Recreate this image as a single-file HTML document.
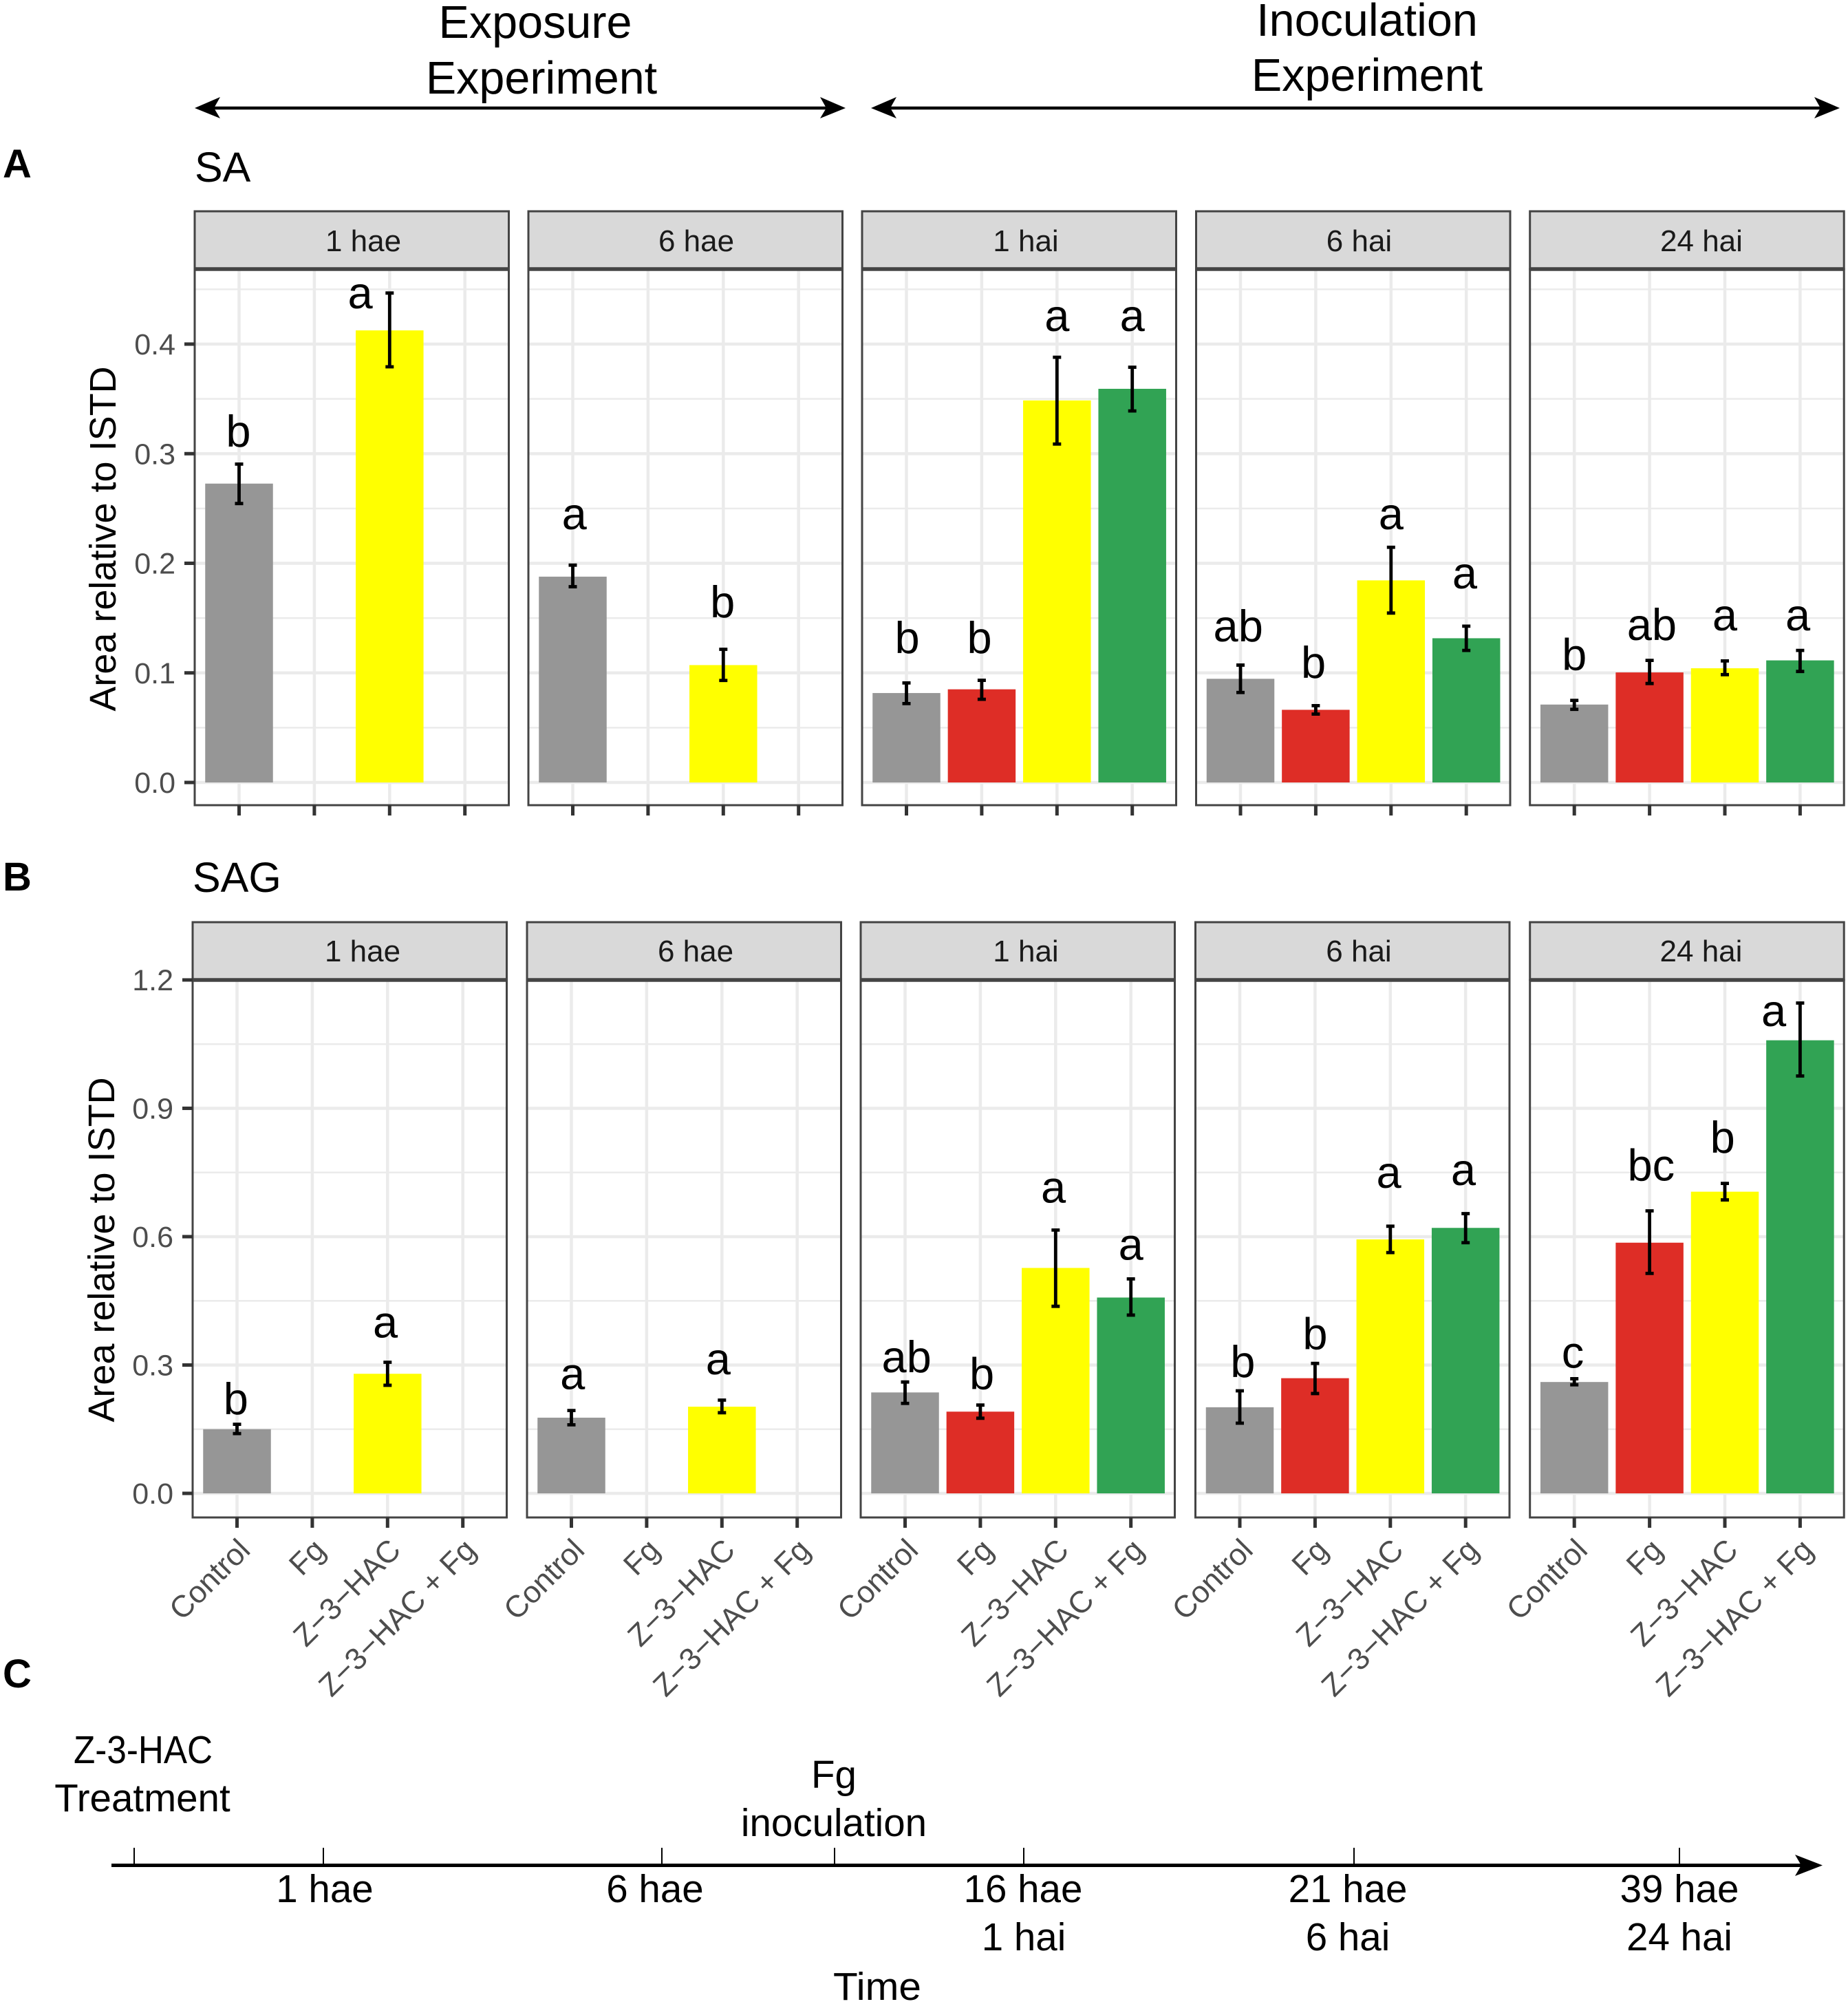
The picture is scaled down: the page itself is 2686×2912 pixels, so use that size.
<!DOCTYPE html>
<html lang="en">
<head>
<meta charset="utf-8">
<title>SA and SAG bar charts with timeline</title>
<style>
html,body{margin:0;padding:0;background:#fff;}
svg{display:block;font-family:"Liberation Sans",sans-serif;}
</style>
</head>
<body>
<svg id="figure" xmlns="http://www.w3.org/2000/svg" width="2686" height="2912" viewBox="0 0 2686 2912">
  <rect x="0" y="0" width="2686" height="2912" fill="#ffffff"/>

  <g fill="#000" font-size="66.5" text-anchor="middle">
    <text x="778" y="55">Exposure</text>
    <text x="787" y="136">Experiment</text>
    <text x="1987" y="52">Inoculation</text>
    <text x="1987" y="132">Experiment</text>
  </g>
  <g>
    <line x1="300" y1="157" x2="1210" y2="157" stroke="#000" stroke-width="4.5"/>
    <polygon points="283,157 320,141 311,157 320,172" fill="#000"/>
    <polygon points="1229,157 1192,141 1201,157 1192,172" fill="#000"/>
  </g>
  <g>
    <line x1="1285" y1="157" x2="2656" y2="157" stroke="#000" stroke-width="4.5"/>
    <polygon points="1266,157 1303,141 1294,157 1303,172" fill="#000"/>
    <polygon points="2674,157 2637,141 2646,157 2637,172" fill="#000"/>
  </g>

  <text x="4" y="258" font-size="58" font-weight="bold">A</text>
  <text x="4" y="1294" font-size="58" font-weight="bold">B</text>
  <text x="4" y="2452" font-size="58" font-weight="bold">C</text>
  <text x="283" y="264" font-size="61">SA</text>
  <text x="280" y="1296" font-size="61">SAG</text>
  <text transform="translate(168,783) rotate(-90)" text-anchor="middle" font-size="54">Area relative to ISTD</text>
  <text transform="translate(166,1816) rotate(-90)" text-anchor="middle" font-size="54">Area relative to ISTD</text>

  <g id="chart-sa"></g>
  <g id="chart-sag"></g>

  <g font-size="56.5" text-anchor="middle" fill="#000">
    <line x1="162" y1="2710.5" x2="2620" y2="2710.5" stroke="#000" stroke-width="5"/>
    <polygon points="2649,2710.5 2609,2695 2618,2710.5 2609,2726" fill="#000"/>
    <line x1="195" y1="2685" x2="195" y2="2710" stroke="#000" stroke-width="2"/>
    <line x1="470" y1="2685" x2="470" y2="2710" stroke="#000" stroke-width="2"/>
    <line x1="962" y1="2685" x2="962" y2="2710" stroke="#000" stroke-width="2"/>
    <line x1="1213" y1="2685" x2="1213" y2="2710" stroke="#000" stroke-width="2"/>
    <line x1="1488" y1="2685" x2="1488" y2="2710" stroke="#000" stroke-width="2"/>
    <line x1="1968" y1="2685" x2="1968" y2="2710" stroke="#000" stroke-width="2"/>
    <line x1="2441" y1="2685" x2="2441" y2="2710" stroke="#000" stroke-width="2"/>
    <text x="208" y="2562" textLength="202" lengthAdjust="spacingAndGlyphs">Z-3-HAC</text>
    <text x="207" y="2632">Treatment</text>
    <text x="1212" y="2598">Fg</text>
    <text x="1212" y="2668">inoculation</text>
    <text x="472" y="2764">1 hae</text>
    <text x="952" y="2764">6 hae</text>
    <text x="1487" y="2764">16 hae</text>
    <text x="1959" y="2764">21 hae</text>
    <text x="2441" y="2764">39 hae</text>
    <text x="1488" y="2834">1 hai</text>
    <text x="1959" y="2834">6 hai</text>
    <text x="2441" y="2834">24 hai</text>
    <text x="1275" y="2906" textLength="128" lengthAdjust="spacingAndGlyphs">Time</text>
  </g>
</svg>

<script>
// ---- data ----
const categories = ["Control", "Fg", "Z\u22123\u2212HAC", "Z\u22123\u2212HAC + Fg"];
const panelNames = ["1 hae", "6 hae", "1 hai", "6 hai", "24 hai"];
const barColors = ["#969696", "#de2d26", "#ffff00", "#31a354"];

const saMajorTicks = [0, 0.1, 0.2, 0.3, 0.4];
const saMinorTicks = [0.05, 0.15, 0.25, 0.35, 0.45];
const saTickLabels = ["0.0", "0.1", "0.2", "0.3", "0.4"];
const saMeans = [
  [0.2727, null, 0.4125, null],
  [0.1878, null, 0.1071, null],
  [0.0816, 0.0850, 0.3486, 0.3592],
  [0.0946, 0.0663, 0.1844, 0.1316],
  [0.0711, 0.1004, 0.1042, 0.1114]
];
const saErrLow = [
  [0.2545, null, 0.3793, null],
  [0.1786, null, 0.0931, null],
  [0.0720, 0.0759, 0.3088, 0.3390],
  [0.0821, 0.0624, 0.1546, 0.1205],
  [0.0667, 0.0903, 0.0984, 0.1013]
];
const saErrHigh = [
  [0.2905, null, 0.4466, null],
  [0.1983, null, 0.1215, null],
  [0.0908, 0.0932, 0.3880, 0.3789],
  [0.1071, 0.0701, 0.2146, 0.1426],
  [0.0749, 0.1114, 0.1109, 0.1205]
];
const saLetters = [
  ["b", null, "a", null],
  ["a", null, "b", null],
  ["b", "b", "a", "a"],
  ["ab", "b", "a", "a"],
  ["b", "ab", "a", "a"]
];
const saLetterHeights = [
  [0.3064, null, 0.4327, null],
  [0.2310, null, 0.1508, null],
  [0.1181, 0.1181, 0.4120, 0.4120],
  [0.1287, 0.0956, 0.2310, 0.1772],
  [0.1028, 0.1300, 0.1388, 0.1388]
];
const saLetterShift = [
  [-0.01, 0, -0.39, 0],
  [0.02, 0, -0.01, 0],
  [0.01, -0.03, 0, 0],
  [-0.03, -0.03, 0, -0.02],
  [0, 0.03, 0, -0.03]
];

const sagMajorTicks = [0, 0.3, 0.6, 0.9, 1.2];
const sagMinorTicks = [0.15, 0.45, 0.75, 1.05];
const sagTickLabels = ["0.0", "0.3", "0.6", "0.9", "1.2"];
const sagMeans = [
  [0.1500, null, 0.2795, null],
  [0.1769, null, 0.2026, null],
  [0.2359, 0.1910, 0.5269, 0.4577],
  [0.2013, 0.2692, 0.5936, 0.6205],
  [0.2603, 0.5859, 0.7051, 1.0590]
];
const sagErrLow = [
  [0.1397, null, 0.2526, null],
  [0.1603, null, 0.1885, null],
  [0.2103, 0.1756, 0.4372, 0.4167],
  [0.1641, 0.2333, 0.5628, 0.5859],
  [0.2538, 0.5141, 0.6859, 0.9756]
];
const sagErrHigh = [
  [0.1615, null, 0.3064, null],
  [0.1936, null, 0.2179, null],
  [0.2603, 0.2064, 0.6154, 0.5013],
  [0.2397, 0.3038, 0.6244, 0.6538],
  [0.2679, 0.6603, 0.7244, 1.1460]
];
const sagLetters = [
  ["b", null, "a", null],
  ["a", null, "a", null],
  ["ab", "b", "a", "a"],
  ["b", "b", "a", "a"],
  ["c", "bc", "b", "a"]
];
const sagLetterHeights = [
  [0.1846, null, 0.3641, null],
  [0.2436, null, 0.2782, null],
  [0.2833, 0.2436, 0.6795, 0.5462],
  [0.2718, 0.3372, 0.7140, 0.7205],
  [0.2936, 0.7308, 0.7962, 1.0923]
];
const sagLetterShift = [
  [-0.015, 0, -0.03, 0],
  [0.015, 0, -0.05, 0],
  [0.02, 0.02, -0.03, 0],
  [0.04, 0, -0.02, -0.03],
  [-0.02, 0.02, -0.03, -0.35]
];

// ---- drawing ----
const SVG_NS = "http://www.w3.org/2000/svg";
const PANEL_W = 456.5, CAT_STEP = 109.4, CAT_START = 64.5, BAR_W = 98.5;

function make(parent, type, attrs, text) {
  const el = document.createElementNS(SVG_NS, type);
  for (const k in attrs) el.setAttribute(k, attrs[k]);
  if (text !== undefined) el.textContent = text;
  parent.appendChild(el);
  return el;
}

function drawChart(cfg) {
  const root = document.getElementById(cfg.id);
  const y = v => cfg.y0 - v * cfg.unit;
  const x = (p, c) => cfg.lefts[p] + CAT_START + c * CAT_STEP;

  cfg.lefts.forEach((left, p) => {
    const right = left + PANEL_W;
    const panel = make(root, "g", {});
    
    

    // grid
    cfg.minor.forEach(v => {
      if (y(v) <= cfg.stripBottom) return;
      const g = make(panel, "line", {x1: left, x2: right, y1: y(v), y2: y(v), stroke: "#ebebeb", "stroke-width": 2.5});
      
      
    });
    cfg.major.forEach(v => {
      if (y(v) <= cfg.stripBottom) return;
      const g = make(panel, "line", {x1: left, x2: right, y1: y(v), y2: y(v), stroke: "#ebebeb", "stroke-width": 4.5});
      
      
    });
    categories.forEach((cat, c) => {
      const g = make(panel, "line", {x1: x(p, c), x2: x(p, c), y1: cfg.stripBottom, y2: cfg.bottom, stroke: "#ebebeb", "stroke-width": 4.5});
      
      
    });

    // bars
    categories.forEach((cat, c) => {
      const v = cfg.means[p][c];
      if (v === null) return;
      const bar = make(panel, "rect", {x: x(p, c) - BAR_W / 2, y: y(v), width: BAR_W, height: y(0) - y(v), fill: barColors[c]});
      
      
    });

    // error bars
    categories.forEach((cat, c) => {
      const lo = cfg.low[p][c], hi = cfg.high[p][c];
      if (lo === null || hi === null) return;
      const err = make(panel, "path", {
        d: "M" + (x(p, c) - 6) + " " + y(hi) + "H" + (x(p, c) + 6) +
           "M" + x(p, c) + " " + y(hi) + "V" + y(lo) +
           "M" + (x(p, c) - 6) + " " + y(lo) + "H" + (x(p, c) + 6),
        stroke: "#000", "stroke-width": 4.8, fill: "none"
      });
      
      
    });

    // significance letters
    categories.forEach((cat, c) => {
      const s = cfg.letters[p][c];
      if (s === null) return;
      const t = make(panel, "text", {
        x: x(p, c + cfg.shift[p][c]),
        y: y(cfg.heights[p][c]),
        "font-size": 65, "text-anchor": "middle", fill: "#000"
      }, s);
      
      
    });

    // border
    const border = make(panel, "rect", {x: left, y: cfg.stripBottom, width: right - left, height: cfg.bottom - cfg.stripBottom, fill: "none", stroke: "#444444", "stroke-width": 3});
    
    

    // strip
    const strip = make(panel, "rect", {x: left, y: cfg.stripTop, width: right - left, height: cfg.stripBottom - cfg.stripTop, fill: "#d9d9d9", stroke: "#444444", "stroke-width": 3});
    
    
    const stripLine = make(panel, "line", {x1: left, x2: right, y1: cfg.stripBottom, y2: cfg.stripBottom, stroke: "#444444", "stroke-width": 5.5});
    
    
    const stripText = make(panel, "text", {x: cfg.stripCenters[p], y: cfg.stripBaseline, "font-size": 44, "text-anchor": "middle", fill: "#1a1a1a"}, panelNames[p]);
    
    

    // x ticks and labels
    categories.forEach((cat, c) => {
      const tick = make(panel, "line", {x1: x(p, c), x2: x(p, c), y1: cfg.bottom, y2: cfg.bottom + 15, stroke: "#333333", "stroke-width": 5});
      
      
      if (cfg.showLabels) {
        const lx = x(p, c) + 21.5, ly = cfg.bottom + 50;
        const label = make(panel, "text", {x: lx, y: ly, "font-size": 44.5, "text-anchor": "end", fill: "#4d4d4d", transform: "rotate(-45 " + lx + " " + ly + ")"}, cat);
        
        
      }
    });
  });

  // y axis
  const axisLeft = cfg.lefts[0];
  cfg.major.forEach((v, i) => {
    const tick = make(root, "line", {x1: axisLeft - 15, x2: axisLeft, y1: y(v), y2: y(v), stroke: "#333333", "stroke-width": 5});
    
    
    const label = make(root, "text", {x: axisLeft - 28, y: y(v) + 15, "font-size": 43, "text-anchor": "end", fill: "#4d4d4d"}, cfg.tickLabels[i]);
    
    
  });
}

drawChart({
  id: "chart-sa",
  lefts: [283, 768, 1253, 1738.5, 2223.7],
  stripTop: 307, stripBottom: 391, bottom: 1170,
  stripBaseline: 365,
  stripCenters: [528, 1012, 1491, 1975.5, 2473],
  y0: 1137, unit: 1592.5,
  major: saMajorTicks, minor: saMinorTicks, tickLabels: saTickLabels,
  means: saMeans, low: saErrLow, high: saErrHigh,
  letters: saLetters, heights: saLetterHeights, shift: saLetterShift,
  showLabels: false
});

drawChart({
  id: "chart-sag",
  lefts: [280, 766, 1251, 1737.5, 2223.7],
  stripTop: 1340, stripBottom: 1424, bottom: 2205,
  stripBaseline: 1397,
  stripCenters: [527, 1011, 1491, 1975, 2472.5],
  y0: 2170, unit: 621.7,
  major: sagMajorTicks, minor: sagMinorTicks, tickLabels: sagTickLabels,
  means: sagMeans, low: sagErrLow, high: sagErrHigh,
  letters: sagLetters, heights: sagLetterHeights, shift: sagLetterShift,
  showLabels: true
});
</script>
</body>
</html>
